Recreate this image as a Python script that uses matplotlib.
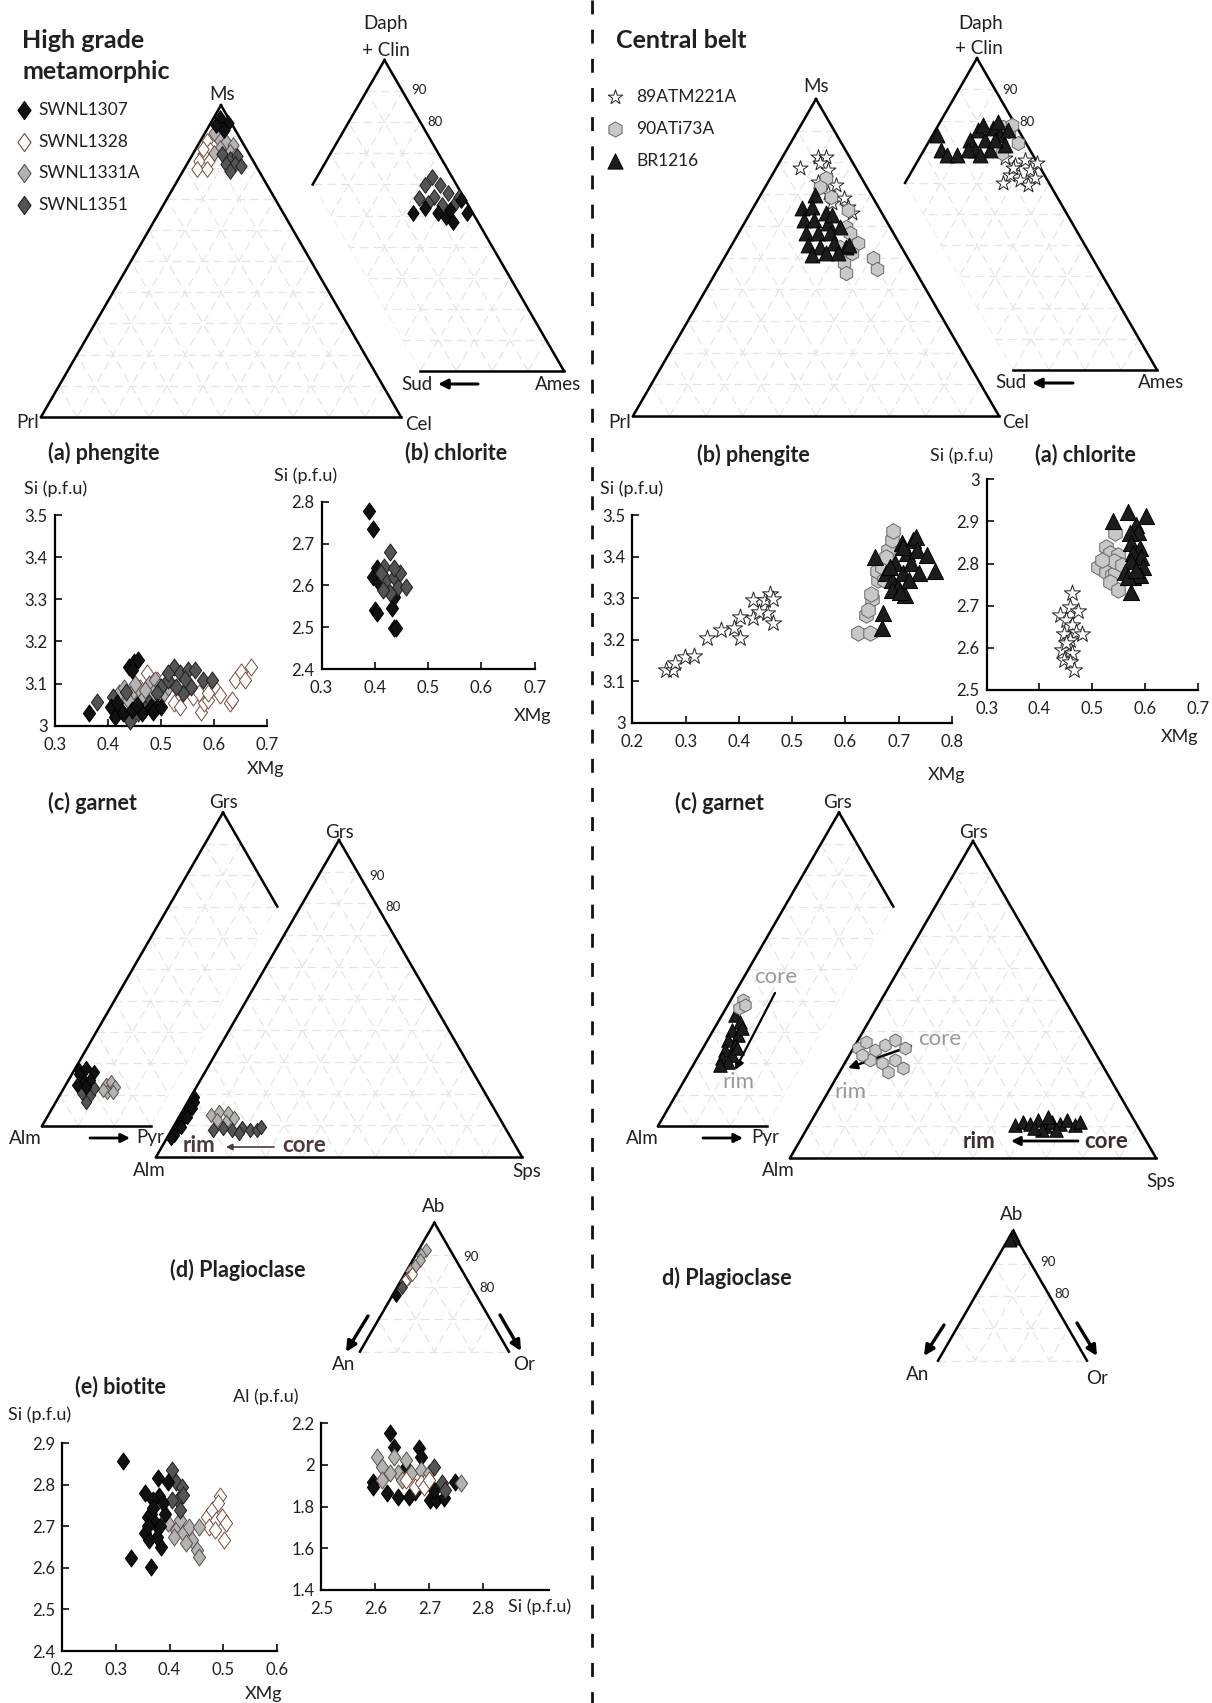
import numpy as np
import matplotlib
matplotlib.use('Agg')
import matplotlib.pyplot as plt
from matplotlib.path import Path
from matplotlib.patches import Polygon
from matplotlib.ticker import FuncFormatter

plt.rcParams['font.family'] = ['Lato', 'DejaVu Sans']
TXT = '#231f20'
GRID = '#ebe4e4'

# ======================= DATA =======================
# ---- High grade metamorphic: phengite ternary (Ms %, Cel %; rest Prl)
pheT_1307_ms = [96.0, 94.4, 92.2, 93.5]
pheT_1307_cel = [1.7, 4.7, 4.7, 1.9]
pheT_1331A_ms = [89.6, 88.3, 87.4, 86.4, 85.1, 84.8, 83.8, 91.0]
pheT_1331A_cel = [4.4, 7.3, 9.6, 6.5, 9.9, 5.7, 12.0, 2.5]
pheT_1351_ms = [84.2, 82.9, 83.6, 81.0, 81.0, 78.8, 80.4]
pheT_1351_cel = [8.2, 11.0, 12.6, 10.9, 13.4, 13.1, 15.3]
pheT_1328_ms = [88.4, 85.8, 84.2, 82.0, 82.0, 79.4, 79.4, 86.1]
pheT_1328_cel = [1.9, 4.1, 2.9, 2.9, 5.7, 3.7, 6.4, 1.9]

# ---- High grade: chlorite ternary (Daph+Clin %, Ames %; rest Sud)
chlT_1351_dc = [62.5, 59.8, 59.8, 55.5, 56.0, 57.1, 54.4, 53.4, 53.9, 56.0]
chlT_1351_am = [32.1, 31.3, 35.6, 31.8, 35.9, 39.0, 42.6, 39.3, 35.3, 42.8]
chlT_1307_dc = [50.7, 52.3, 50.7, 49.6, 48.0, 55.0, 50.7, 51.8]
chlT_1307_am = [32.6, 35.0, 39.6, 42.3, 45.2, 43.9, 47.6, 42.3]

# ---- High grade: phengite Si vs XMg
phe_x_1328 = [0.493, 0.507, 0.525, 0.536, 0.561, 0.576, 0.582, 0.590, 0.601, 0.611, 0.630,
              0.634, 0.641, 0.652, 0.659, 0.670, 0.475, 0.460, 0.449, 0.572, 0.590]
phe_y_1328 = [3.108, 3.112, 3.053, 3.045, 3.069, 3.033, 3.053, 3.061, 3.093, 3.073, 3.053,
              3.061, 3.108, 3.128, 3.108, 3.140, 3.124, 3.089, 3.077, 3.077, 3.077]
phe_x_1331A = [0.421, 0.431, 0.446, 0.457, 0.468, 0.478, 0.489, 0.496, 0.507, 0.514, 0.486,
               0.439, 0.452, 0.471]
phe_y_1331A = [3.077, 3.089, 3.077, 3.089, 3.069, 3.100, 3.108, 3.093, 3.077, 3.093, 3.077,
               3.061, 3.100, 3.085]
phe_x_1351 = [0.379, 0.410, 0.435, 0.442, 0.457, 0.478, 0.500, 0.514, 0.525, 0.536, 0.551,
              0.565, 0.579, 0.543, 0.558, 0.597, 0.514, 0.529, 0.493, 0.420, 0.470, 0.545]
phe_y_1351 = [3.057, 3.069, 3.081, 3.010, 3.030, 3.053, 3.093, 3.108, 3.140, 3.124, 3.132,
              3.132, 3.108, 3.077, 3.093, 3.108, 3.124, 3.093, 3.077, 3.045, 3.040, 3.110]
phe_x_1307 = [0.364, 0.441, 0.449, 0.458, 0.446, 0.406, 0.413, 0.428, 0.446, 0.464, 0.482,
              0.493, 0.486, 0.500, 0.418, 0.455]
phe_y_1307 = [3.029, 3.140, 3.152, 3.156, 3.132, 3.045, 3.020, 3.030, 3.037, 3.030, 3.045,
              3.045, 3.033, 3.045, 3.055, 3.050]

# ---- High grade: chlorite Si vs XMg
chl_x_1307 = [0.390, 0.397, 0.400, 0.404, 0.433, 0.436, 0.440, 0.397, 0.404, 0.436, 0.408]
chl_y_1307 = [2.778, 2.734, 2.541, 2.533, 2.545, 2.497, 2.497, 2.620, 2.641, 2.573, 2.605]
chl_x_1351 = [0.429, 0.418, 0.422, 0.436, 0.444, 0.458, 0.447, 0.429, 0.411, 0.436, 0.415]
chl_y_1351 = [2.680, 2.645, 2.613, 2.621, 2.597, 2.597, 2.629, 2.581, 2.629, 2.641, 2.589]

# ---- High grade: garnet Grs-Alm-Pyr (Grs %, Pyr %)
grtP_1307_grs = [17.9, 18.4, 17.3, 15.2, 14.7, 13.1, 12.5, 16.5]
grtP_1307_pyr = [1.2, 3.0, 5.6, 3.5, 5.9, 3.0, 5.9, 2.0]
grtP_1351_grs = [10.4, 9.9, 7.8, 12.0]
grtP_1351_pyr = [5.9, 8.3, 8.3, 8.3]
grtP_1328_grs = [13.1, 14.1, 12.5, 10.9, 10.9, 11.5]
grtP_1328_pyr = [11.0, 12.0, 13.8, 12.5, 14.1, 11.2]
# ---- High grade: garnet Grs-Alm-Sps (Grs %, Sps %)
grtS_1307_grs = [19.0, 17.5, 16.0, 14.5, 13.0, 11.5, 10.0, 8.5, 7.0, 15.5, 12.5, 9.5, 6.0]
grtS_1307_sps = [1.0, 1.5, 1.0, 1.2, 1.5, 1.0, 1.5, 1.2, 1.5, 2.0, 2.2, 2.0, 1.0]
grtS_1328_grs = [13.2, 14.3, 13.8, 11.7, 11.1, 12.2]
grtS_1328_sps = [8.5, 10.1, 12.9, 10.9, 13.7, 15.3]
grtS_1351_grs = [9.1, 8.5, 9.1, 8.5, 8.5, 9.6, 8.5, 7.5]
grtS_1351_sps = [13.8, 16.6, 19.0, 21.3, 23.4, 23.9, 11.4, 18.8]

# ---- High grade: plagioclase (Ab %, Or %)
pl_1331A_ab = [91.5, 90.0, 88.5, 86.5, 85.0, 83.0]
pl_1331A_or = [2.0, 1.5, 2.0, 1.5, 1.0, 1.5]
pl_1328_ab = [84.0, 82.0]
pl_1328_or = [2.0, 1.0]
pl_1351_ab = [80.0]
pl_1351_or = [1.2]
pl_1307_ab = [77.5]
pl_1307_or = [1.0]

# ---- High grade: biotite Si vs XMg
bt_x_1307 = [0.314, 0.328, 0.366, 0.355, 0.378, 0.359, 0.355, 0.366, 0.373, 0.384, 0.380,
             0.369, 0.391, 0.376, 0.362, 0.387, 0.398, 0.370, 0.382, 0.360]
bt_y_1307 = [2.858, 2.623, 2.603, 2.780, 2.816, 2.723, 2.683, 2.731, 2.707, 2.651, 2.772,
             2.764, 2.731, 2.675, 2.667, 2.756, 2.808, 2.745, 2.700, 2.700]
bt_x_1351 = [0.404, 0.412, 0.423, 0.416, 0.425, 0.405, 0.419]
bt_y_1351 = [2.836, 2.808, 2.796, 2.764, 2.776, 2.764, 2.740]
bt_x_1331A = [0.398, 0.412, 0.419, 0.426, 0.437, 0.441, 0.455, 0.452, 0.455, 0.430, 0.409]
bt_y_1331A = [2.707, 2.691, 2.715, 2.683, 2.699, 2.667, 2.699, 2.643, 2.627, 2.659, 2.675]
bt_x_1328 = [0.469, 0.473, 0.480, 0.487, 0.494, 0.498, 0.501, 0.484, 0.491, 0.505]
bt_y_1328 = [2.723, 2.699, 2.740, 2.715, 2.772, 2.723, 2.667, 2.691, 2.756, 2.707]

# ---- High grade: biotite Al vs Si
ba_x_1307 = [2.596, 2.596, 2.628, 2.635, 2.681, 2.684, 2.642, 2.663, 2.674, 2.702, 2.713,
             2.727, 2.748, 2.621, 2.709, 2.656]
ba_y_1307 = [1.920, 1.896, 2.152, 2.088, 2.080, 2.040, 1.848, 1.848, 1.872, 1.832, 1.832,
             1.840, 1.920, 1.864, 1.880, 1.992]
ba_x_1331A = [2.603, 2.613, 2.635, 2.642, 2.656, 2.667, 2.684, 2.649, 2.628, 2.699, 2.759, 2.613]
ba_y_1331A = [2.040, 1.992, 2.040, 1.960, 2.024, 1.960, 1.976, 1.928, 1.960, 1.960, 1.912, 1.928]
ba_x_1351 = [2.709, 2.723, 2.730]
ba_y_1351 = [1.992, 1.912, 1.880]
ba_x_1328 = [2.656, 2.674, 2.684, 2.691, 2.699]
ba_y_1328 = [1.928, 1.896, 1.912, 1.896, 1.928]

# ---- Central belt: phengite ternary (Ms %, Cel %)
pheT_89_ms = [78.1, 81.8, 81.8, 79.7, 77.6, 73.9, 72.9, 68.7, 67.1, 63.9, 70.3, 66.0]
pheT_89_cel = [6.6, 9.7, 11.8, 11.2, 14.5, 13.6, 19.1, 23.3, 20.9, 27.8, 18.2, 25.7]
pheT_90_ms = [75.0, 69.2, 65.0, 72.3, 59.7, 57.6, 54.5, 49.7, 46.5, 48.2, 45.0, 51.3, 53.4]
pheT_90_cel = [15.2, 19.6, 26.2, 14.9, 28.3, 30.4, 34.1, 40.6, 43.3, 33.6, 35.7, 34.1, 29.9]
pheT_br_ms = [69.7, 65.5, 66.0, 63.9, 61.8, 61.8, 60.8, 59.7, 57.6, 57.6, 57.6, 53.9, 53.4,
              54.5, 53.4, 50.8, 51.3, 51.3, 53.9, 63.4]
pheT_br_cel = [14.9, 13.4, 16.0, 20.7, 15.9, 18.6, 22.9, 26.7, 18.5, 21.8, 25.0, 20.9, 24.4,
               27.6, 31.5, 23.6, 27.0, 30.3, 32.2, 22.7]

# ---- Central belt: chlorite ternary (Daph+Clin %, Ames %)
chlT_br_dc = [75.4, 70.6, 69.0, 69.0, 73.8, 77.0, 73.8, 77.6, 75.4, 70.6, 70.6, 72.2, 78.6,
              79.6, 70.6, 77.0, 69.0, 73.8]
chlT_br_am = [1.2, 4.7, 7.2, 9.9, 11.2, 11.8, 15.3, 15.6, 18.7, 14.1, 18.3, 21.7, 12.4,
              16.0, 12.2, 20.1, 16.3, 18.1]
chlT_90_dc = [78.1, 76.5, 72.7, 69.5, 78.6]
chlT_90_am = [18.1, 20.6, 25.1, 22.3, 20.4]
chlT_89_dc = [68.0, 65.8, 67.4, 64.2, 62.6, 61.0, 61.6, 60.0, 59.4, 64.8, 66.4]
chlT_89_am = [23.8, 27.7, 29.6, 32.6, 27.9, 31.4, 35.3, 27.2, 34.5, 27.6, 33.5]

# ---- Central belt: phengite Si vs XMg
cphe_x_89 = [0.263, 0.277, 0.280, 0.299, 0.316, 0.340, 0.366, 0.390, 0.403, 0.402, 0.426,
             0.426, 0.449, 0.459, 0.465, 0.452, 0.465, 0.437]
cphe_y_89 = [3.128, 3.127, 3.144, 3.159, 3.161, 3.205, 3.222, 3.227, 3.203, 3.255, 3.251,
             3.295, 3.295, 3.311, 3.297, 3.263, 3.241, 3.267]
cphe_x_90 = [0.623, 0.646, 0.638, 0.651, 0.649, 0.661, 0.659, 0.668, 0.680, 0.687, 0.690,
             0.676, 0.672, 0.642]
cphe_y_90 = [3.217, 3.217, 3.259, 3.297, 3.311, 3.343, 3.364, 3.376, 3.416, 3.440, 3.462,
             3.400, 3.343, 3.271]
cphe_x_br = [0.655, 0.668, 0.670, 0.676, 0.687, 0.694, 0.698, 0.706, 0.709, 0.713, 0.716,
             0.724, 0.728, 0.732, 0.735, 0.739, 0.754, 0.769, 0.687, 0.702, 0.683, 0.720, 0.709]
cphe_y_br = [3.400, 3.227, 3.265, 3.360, 3.343, 3.384, 3.327, 3.432, 3.360, 3.307, 3.408,
             3.384, 3.440, 3.448, 3.416, 3.360, 3.404, 3.364, 3.319, 3.315, 3.376, 3.343, 3.424]

# ---- Central belt: chlorite Si vs XMg
cchl_x_89 = [0.462, 0.439, 0.458, 0.473, 0.450, 0.462, 0.447, 0.469, 0.480, 0.458, 0.443,
             0.462, 0.447, 0.458, 0.465, 0.450]
cchl_y_89 = [2.731, 2.678, 2.698, 2.688, 2.666, 2.654, 2.634, 2.638, 2.634, 2.619, 2.595,
             2.587, 2.571, 2.567, 2.547, 2.611]
cchl_x_90 = [0.511, 0.526, 0.544, 0.533, 0.548, 0.526, 0.537, 0.544, 0.533, 0.548, 0.541,
             0.556, 0.518]
cchl_y_90 = [2.793, 2.840, 2.872, 2.824, 2.820, 2.781, 2.773, 2.777, 2.757, 2.737, 2.805,
             2.797, 2.809]
cchl_x_br = [0.539, 0.567, 0.601, 0.582, 0.586, 0.571, 0.574, 0.590, 0.578, 0.593, 0.574,
             0.597, 0.563, 0.578, 0.590, 0.574, 0.567, 0.582]
cchl_y_br = [2.900, 2.923, 2.913, 2.892, 2.876, 2.872, 2.848, 2.836, 2.824, 2.816, 2.805,
             2.793, 2.781, 2.769, 2.773, 2.733, 2.769, 2.785]

# ---- Central belt: garnet Grs-Alm-Pyr (Grs %, Pyr %)
cgrtP_90_grs = [40.2, 37.5, 38.6]
cgrtP_90_pyr = [3.3, 3.5, 4.7]
cgrtP_br_grs = [35.4, 33.2, 30.6, 29.0, 27.4, 25.8, 24.2, 22.6, 21.7, 20.4, 19.5, 31.3, 24.9]
cgrtP_br_pyr = [3.6, 6.1, 5.1, 7.6, 5.6, 8.4, 6.4, 9.1, 6.9, 9.1, 7.4, 7.6, 9.4]
# ---- Central belt: garnet Grs-Alm-Sps (Grs %, Sps %)
cgrtS_90_grs = [34.7, 36.6, 34.1, 35.6, 37.2, 34.7, 30.9, 30.0, 30.9, 28.4, 32.5, 27.1]
cgrtS_90_sps = [1.2, 2.5, 6.2, 8.2, 10.1, 14.0, 6.4, 10.1, 13.2, 16.7, 3.5, 13.2]
cgrtS_br_grs = [10.4, 11.4, 10.7, 12.0, 10.1, 11.4, 10.7, 12.0, 10.4, 8.8, 8.8, 11.4, 12.9, 9.5]
cgrtS_br_sps = [56.3, 58.0, 60.2, 61.8, 64.7, 65.9, 68.4, 69.7, 72.7, 64.5, 68.3, 73.5, 64.0, 62.0]

# ---- Central belt: plagioclase (Ab %, Or %)
cpl_br_ab = [99.0, 98.0, 97.5]
cpl_br_or = [0.5, 1.0, 0.5]

# ======================= FIGURE =======================
W, H = 1212, 1703
fig = plt.figure(figsize=(W / 100, H / 100), dpi=100)
fig.patch.set_facecolor('white')
base = fig.add_axes([0, 0, 1, 1])
base.set_xlim(0, W)
base.set_ylim(H, 0)
base.axis('off')

DIAM = Path([(0, 1), (0.72, 0), (0, -1), (-0.72, 0), (0, 1)],
            [Path.MOVETO, Path.LINETO, Path.LINETO, Path.LINETO, Path.CLOSEPOLY])
STY = {
    'SWNL1307': dict(m=DIAM, fc='#111111', ec='#000000'),
    'SWNL1328': dict(m=DIAM, fc='#ffffff', ec='#7a4a3a'),
    'SWNL1331A': dict(m=DIAM, fc='#b3b3b3', ec='#5e4e4a'),
    'SWNL1351': dict(m=DIAM, fc='#545454', ec='#1e1e1e'),
    '89ATM221A': dict(m='*', fc='#ffffff', ec='#222222'),
    '90ATi73A': dict(m='h', fc='#c8c8c8', ec='#666666'),
    'BR1216': dict(m='^', fc='#1c1c1c', ec='#000000'),
}
MS = {DIAM: 150}
F_VERT = 13.5      # vertex labels
F_TITLE = 15.5     # panel titles
F_AX = 13          # axis labels
F_TICK = 12
F_SMALL = 9.5


def msize(key, scale=1.0):
    m = STY[key]['m']
    if m is DIAM:
        return 150 * scale
    if m == '*':
        return 150 * scale
    if m == 'h':
        return 125 * scale
    return 135 * scale


def txt(x, y, s, size=F_VERT, weight='normal', color=TXT, ha='center', va='center', **kw):
    base.text(x, y, s, fontsize=size, fontweight=weight, color=color, ha=ha, va=va, **kw)


def arrow(x0, y0, x1, y1, lw=2.2, ms=14, color='black'):
    base.annotate('', xy=(x1, y1), xytext=(x0, y0),
                  arrowprops=dict(arrowstyle='-|>', lw=lw, color=color, mutation_scale=ms,
                                  shrinkA=0, shrinkB=0))


class Tern:
    def __init__(self, lx, by, side):
        self.lx, self.by, self.s = lx, by, side
        self.h = side * np.sqrt(3) / 2

    def xy(self, top, right):
        t = np.asarray(top, float) / 100
        r = np.asarray(right, float) / 100
        return self.lx + self.s * (r + t / 2), self.by - self.h * t

    def draw(self, region, edges):
        pts = [self.xy(t, r) for t, r in region]
        clip = Polygon(pts, closed=True, transform=base.transData, fc='none', ec='none')
        for k in range(10, 100, 10):
            for (a0, b0), (a1, b1) in [((k, 0), (k, 100 - k)), ((0, k), (100 - k, k)),
                                       ((0, 100 - k), (100 - k, 0))]:
                x0, y0 = self.xy(a0, b0)
                x1, y1 = self.xy(a1, b1)
                ln, = base.plot([x0, x1], [y0, y1], color=GRID, lw=0.9,
                                ls=(0, (7, 4)), zorder=1)
                ln.set_clip_path(clip)
        for (a0, b0), (a1, b1) in edges:
            x0, y0 = self.xy(a0, b0)
            x1, y1 = self.xy(a1, b1)
            base.plot([x0, x1], [y0, y1], color='black', lw=1.8,
                      solid_capstyle='projecting', zorder=2)

    def pts(self, top, right, key, scale=0.85, lw=0.7):
        x, y = self.xy(top, right)
        st = STY[key]
        base.scatter(x, y, marker=st['m'], s=msize(key, scale), facecolors=st['fc'],
                     edgecolors=st['ec'], linewidths=lw, zorder=5)


FULL = [(0, 0), (0, 100), (100, 0)]
FULL_E = [((0, 0), (0, 100)), ((0, 100), (100, 0)), ((100, 0), (0, 0))]
CHL_R = [(100, 0), (60, 0), (0, 60), (0, 100)]
CHL_E = [((100, 0), (60, 0)), ((0, 60), (0, 100)), ((0, 100), (100, 0))]
GRP_R = [(0, 0), (100, 0), (70, 30), (0, 30)]
GRP_E = [((0, 0), (100, 0)), ((100, 0), (70, 30)), ((0, 0), (0, 30))]
PL_R = [(100, 0), (60, 0), (60, 40)]
PL_E = [((100, 0), (60, 0)), ((100, 0), (60, 40))]


def sax(px0, px1, py0, py1, xlim, ylim, xticks, yticks):
    ax = fig.add_axes([px0 / W, 1 - py0 / H, (px1 - px0) / W, (py0 - py1) / H])
    ax.set_xlim(*xlim)
    ax.set_ylim(*ylim)
    ax.patch.set_alpha(0)
    for s in ('top', 'right'):
        ax.spines[s].set_visible(False)
    for s in ('left', 'bottom'):
        ax.spines[s].set_linewidth(1.6)
        ax.spines[s].set_color('black')
    ax.set_xticks(xticks)
    ax.set_yticks(yticks)
    fmt = FuncFormatter(lambda v, p: f'{v:g}')
    ax.xaxis.set_major_formatter(fmt)
    ax.yaxis.set_major_formatter(fmt)
    ax.tick_params(direction='in', length=5, width=1.3, labelsize=F_TICK, colors=TXT)
    ax.tick_params(axis='x', pad=8)
    ax.tick_params(axis='y', pad=5)
    return ax


def spts(ax, x, y, key, lw=0.7):
    st = STY[key]
    ax.scatter(x, y, marker=st['m'], s=msize(key), facecolors=st['fc'], edgecolors=st['ec'],
               linewidths=lw, clip_on=False, zorder=5)


# ---------------- separator ----------------
base.plot([591.5, 591.5], [0, H], color='#111111', lw=2.0, ls=(0, (5, 5.5)), zorder=3)

# ================ LEFT COLUMN ================
txt(22, 48, 'High grade', size=18, weight='bold', ha='left', va='baseline')
txt(22, 79, 'metamorphic', size=18, weight='bold', ha='left', va='baseline')
for yy, key in zip([110, 142, 173, 205], ['SWNL1307', 'SWNL1328', 'SWNL1331A', 'SWNL1351']):
    st = STY[key]
    base.scatter([24], [yy], marker=st['m'], s=170, facecolors=st['fc'], edgecolors=st['ec'],
                 linewidths=0.8, zorder=5)
    txt(38, yy, key, size=12.5, ha='left')

# phengite ternary
T1 = Tern(41, 417, 360)
T1.draw(FULL, FULL_E)
T1.pts(pheT_1328_ms, pheT_1328_cel, 'SWNL1328')
T1.pts(pheT_1331A_ms, pheT_1331A_cel, 'SWNL1331A')
T1.pts(pheT_1351_ms, pheT_1351_cel, 'SWNL1351')
T1.pts(pheT_1307_ms, pheT_1307_cel, 'SWNL1307')
txt(222, 94, 'Ms')
txt(28, 423, 'Prl')
txt(419, 425, 'Cel')

# chlorite ternary
T2 = Tern(205, 371, 359)
T2.draw(CHL_R, CHL_E)
T2.pts(chlT_1351_dc, chlT_1351_am, 'SWNL1351')
T2.pts(chlT_1307_dc, chlT_1307_am, 'SWNL1307')
txt(386, 24, 'Daph')
txt(386, 50, '+ Clin')
txt(419, 90, '90', size=F_SMALL)
txt(435, 122, '80', size=F_SMALL)
txt(417, 384, 'Sud')
arrow(478, 384, 438, 384)
txt(558, 384, 'Ames')

txt(104, 453, '(a) phengite', size=F_TITLE, weight='bold')
txt(456, 453, '(b) chlorite', size=F_TITLE, weight='bold')

# phengite scatter
ax = sax(54.7, 266.7, 725.7, 515, (0.3, 0.7), (3.0, 3.5),
         [0.3, 0.4, 0.5, 0.6, 0.7], [3.0, 3.1, 3.2, 3.3, 3.4, 3.5])
spts(ax, phe_x_1328, phe_y_1328, 'SWNL1328')
spts(ax, phe_x_1331A, phe_y_1331A, 'SWNL1331A')
spts(ax, phe_x_1351, phe_y_1351, 'SWNL1351')
spts(ax, phe_x_1307, phe_y_1307, 'SWNL1307')
txt(56, 489, 'Si (p.f.u)', size=F_AX)
txt(266, 769, 'XMg', size=F_AX)

# chlorite scatter
ax = sax(321.5, 534.6, 669, 501.7, (0.3, 0.7), (2.4, 2.8),
         [0.3, 0.4, 0.5, 0.6, 0.7], [2.4, 2.5, 2.6, 2.7, 2.8])
spts(ax, chl_x_1307, chl_y_1307, 'SWNL1307')
spts(ax, chl_x_1351, chl_y_1351, 'SWNL1351')
txt(306, 476, 'Si (p.f.u)', size=F_AX)
txt(533, 716, 'XMg', size=F_AX)

# garnet ternaries
txt(92, 803, '(c) garnet', size=F_TITLE, weight='bold')
T5 = Tern(42, 1126, 362)
T5.draw(GRP_R, GRP_E)
T5.pts(grtP_1328_grs, grtP_1328_pyr, 'SWNL1331A', scale=0.7)
T5.pts(grtP_1351_grs, grtP_1351_pyr, 'SWNL1351', scale=0.7)
T5.pts(grtP_1307_grs, grtP_1307_pyr, 'SWNL1307', scale=0.7)
txt(224, 803, 'Grs')
txt(25, 1138, 'Alm')
arrow(90, 1138, 130, 1138, lw=2.0, ms=13)
txt(136, 1138, 'Pyr', ha='left')

T6 = Tern(156, 1157, 366)
T6.draw(FULL, FULL_E)
T6.pts(grtS_1307_grs, grtS_1307_sps, 'SWNL1307', scale=0.7)
T6.pts(grtS_1328_grs, grtS_1328_sps, 'SWNL1331A', scale=0.7)
T6.pts(grtS_1351_grs, grtS_1351_sps, 'SWNL1351', scale=0.7)
txt(339, 833, 'Grs')
txt(377, 876, '90', size=F_SMALL)
txt(393, 907, '80', size=F_SMALL)
txt(149, 1170, 'Alm')
txt(527, 1172, 'Sps')
txt(199, 1146, 'rim', size=16, weight='bold', color='#4a3a3a')
arrow(274, 1147, 226, 1147, lw=1.2, ms=9, color='#4a3a3a')
txt(304, 1146, 'core', size=16, weight='bold', color='#4a3a3a')

# plagioclase
T9 = Tern(248.2, 1545.2, 372.4)
T9.draw(PL_R, PL_E)
x0, y0 = T9.xy(60, 0)
x1, y1 = T9.xy(60, 40)
base.plot([x0, x1], [y0, y1], color=GRID, lw=0.9, ls=(0, (7, 4)), zorder=1)
T9.pts(pl_1331A_ab, pl_1331A_or, 'SWNL1331A', scale=0.65)
T9.pts(pl_1328_ab, pl_1328_or, 'SWNL1328', scale=0.65)
T9.pts(pl_1351_ab, pl_1351_or, 'SWNL1351', scale=0.65)
T9.pts(pl_1307_ab, pl_1307_or, 'SWNL1307', scale=0.65)
txt(434, 1206, 'Ab')
txt(344, 1364, 'An')
txt(524, 1364, 'Or')
txt(471, 1257, '90', size=F_SMALL)
txt(487, 1288, '80', size=F_SMALL)
arrow(368, 1316, 346, 1352, lw=2.4, ms=15)
arrow(500, 1315, 521, 1351, lw=2.4, ms=15)
txt(238, 1270, '(d) Plagioclase', size=F_TITLE, weight='bold')

# biotite
txt(120, 1387, '(e) biotite', size=F_TITLE, weight='bold')
ax = sax(62.4, 276.7, 1651, 1443.3, (0.2, 0.6), (2.4, 2.9),
         [0.2, 0.3, 0.4, 0.5, 0.6], [2.4, 2.5, 2.6, 2.7, 2.8, 2.9])
spts(ax, bt_x_1328, bt_y_1328, 'SWNL1328')
spts(ax, bt_x_1331A, bt_y_1331A, 'SWNL1331A')
spts(ax, bt_x_1351, bt_y_1351, 'SWNL1351')
spts(ax, bt_x_1307, bt_y_1307, 'SWNL1307')
txt(40, 1415, 'Si (p.f.u)', size=F_AX)
txt(264, 1694, 'XMg', size=F_AX)

ax = sax(321.4, 549, 1590, 1423.3, (2.5, 2.922), (1.4, 2.2),
         [2.5, 2.6, 2.7, 2.8], [1.4, 1.6, 1.8, 2.0, 2.2])
spts(ax, ba_x_1307, ba_y_1307, 'SWNL1307')
spts(ax, ba_x_1331A, ba_y_1331A, 'SWNL1331A')
spts(ax, ba_x_1328, ba_y_1328, 'SWNL1328')
spts(ax, ba_x_1351, ba_y_1351, 'SWNL1351')
txt(266, 1397, 'Al (p.f.u)', size=F_AX)
txt(540, 1607, 'Si (p.f.u)', size=F_AX)

# ================ RIGHT COLUMN ================
txt(616, 48, 'Central belt', size=18, weight='bold', ha='left', va='baseline')
for yy, key in zip([97, 129, 161], ['89ATM221A', '90ATi73A', 'BR1216']):
    st = STY[key]
    base.scatter([614.6], [yy], marker=st['m'], s=120, facecolors=st['fc'], edgecolors=st['ec'],
                 linewidths=0.7, zorder=5)
    txt(636, yy, key, size=12.5, ha='left')

T3 = Tern(633, 416, 366)
T3.draw(FULL, FULL_E)
T3.pts(pheT_89_ms, pheT_89_cel, '89ATM221A')
T3.pts(pheT_90_ms, pheT_90_cel, '90ATi73A')
T3.pts(pheT_br_ms, pheT_br_cel, 'BR1216')
txt(816, 86, 'Ms')
txt(620, 423, 'Prl')
txt(1016, 423, 'Cel')

T4 = Tern(797, 370, 360)
T4.draw(CHL_R, CHL_E)
T4.pts(chlT_89_dc, chlT_89_am, '89ATM221A')
T4.pts(chlT_90_dc, chlT_90_am, '90ATi73A')
T4.pts(chlT_br_dc, chlT_br_am, 'BR1216')
txt(981, 24, 'Daph')
txt(979, 49, '+ Clin')
txt(1010, 90, '90', size=F_SMALL)
txt(1027, 122, '80', size=F_SMALL)
txt(1011, 383, 'Sud')
arrow(1073, 383, 1032, 383)
txt(1161, 383, 'Ames')

txt(753, 455, '(b) phengite', size=F_TITLE, weight='bold')
txt(1085, 455, '(a) chlorite', size=F_TITLE, weight='bold')

ax = sax(632.4, 951.8, 722.7, 515, (0.2, 0.8), (3.0, 3.5),
         [0.2, 0.3, 0.4, 0.5, 0.6, 0.7, 0.8], [3.0, 3.1, 3.2, 3.3, 3.4, 3.5])
spts(ax, cphe_x_89, cphe_y_89, '89ATM221A')
spts(ax, cphe_x_90, cphe_y_90, '90ATi73A')
spts(ax, cphe_x_br, cphe_y_br, 'BR1216')
txt(632, 489, 'Si (p.f.u)', size=F_AX)
txt(947, 775, 'XMg', size=F_AX)

ax = sax(986.7, 1197.8, 690, 479.3, (0.3, 0.7), (2.5, 3.0),
         [0.3, 0.4, 0.5, 0.6, 0.7], [2.5, 2.6, 2.7, 2.8, 2.9, 3.0])
spts(ax, cchl_x_89, cchl_y_89, '89ATM221A')
spts(ax, cchl_x_90, cchl_y_90, '90ATi73A')
spts(ax, cchl_x_br, cchl_y_br, 'BR1216')
txt(962, 456, 'Si (p.f.u)', size=F_AX)
txt(1180, 737, 'XMg', size=F_AX)

# garnet
txt(719, 803, '(c) garnet', size=F_TITLE, weight='bold')
T7 = Tern(658, 1126, 362)
T7.draw(GRP_R, GRP_E)
T7.pts(cgrtP_br_grs, cgrtP_br_pyr, 'BR1216', scale=0.7)
T7.pts(cgrtP_90_grs, cgrtP_90_pyr, '90ATi73A', scale=0.7)
txt(838, 803, 'Grs')
txt(642, 1138, 'Alm')
arrow(703, 1138, 743, 1138, lw=2.0, ms=13)
txt(751, 1138, 'Pyr', ha='left')
txt(776, 977, 'core', size=16, color='#9a9a9a')
arrow(775, 993, 735, 1070, lw=1.6, ms=13)
txt(738, 1082, 'rim', size=16, color='#9a9a9a')

T8 = Tern(790, 1158, 366)
T8.draw(FULL, FULL_E)
T8.pts(cgrtS_90_grs, cgrtS_90_sps, '90ATi73A', scale=0.7)
T8.pts(cgrtS_br_grs, cgrtS_br_sps, 'BR1216', scale=0.7)
txt(973, 833, 'Grs')
txt(778, 1171, 'Alm')
txt(1161, 1181, 'Sps')
txt(940, 1039, 'core', size=16, color='#9a9a9a')
arrow(911, 1046, 848, 1068, lw=1.8, ms=13)
txt(850, 1092, 'rim', size=16, color='#9a9a9a')
txt(979, 1141, 'rim', size=16, weight='bold', color='#3a2d2d')
arrow(1078, 1141, 1011, 1141, lw=2.0, ms=13)
txt(1106, 1141, 'core', size=16, weight='bold', color='#3a2d2d')

# plagioclase
T10 = Tern(826.3, 1554.2, 372.4)
T10.draw(PL_R, PL_E)
x0, y0 = T10.xy(60, 0)
x1, y1 = T10.xy(60, 40)
base.plot([x0, x1], [y0, y1], color=GRID, lw=0.9, ls=(0, (7, 4)), zorder=1)
T10.pts(cpl_br_ab, cpl_br_or, 'BR1216', scale=0.65)
txt(1012, 1214, 'Ab')
txt(918, 1374, 'An')
txt(1097, 1379, 'Or')
txt(1048, 1262, '90', size=F_SMALL)
txt(1062, 1294, '80', size=F_SMALL)
arrow(944, 1325, 924, 1356, lw=2.4, ms=15)
arrow(1077, 1323, 1097, 1356, lw=2.4, ms=15)
txt(727, 1278, 'd) Plagioclase', size=F_TITLE, weight='bold')

fig.savefig('out.png', dpi=100, facecolor='white')
